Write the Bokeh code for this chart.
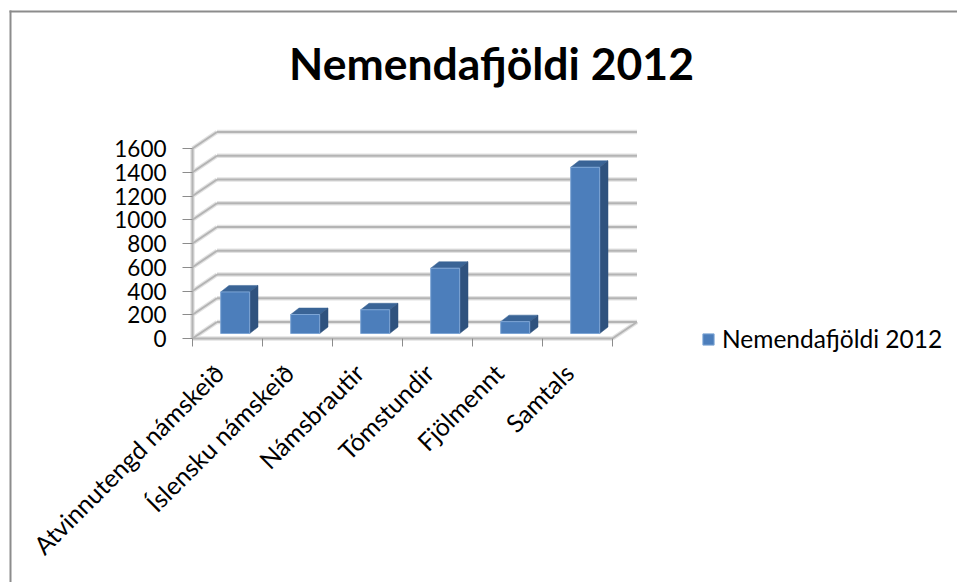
from math import pi
from bokeh.plotting import figure
from bokeh.models import FixedTicker, BoxAnnotation, Legend, LegendItem, Label
from bokeh.embed import file_html
from bokeh.resources import INLINE

title_text = "Nemendafjöldi 2012"
categories = ["Atvinnutengd námskeið", "Íslensku námskeið", "Námsbrautir", "Tómstundir", "Fjölmennt", "Samtals"]
values = [350, 160, 200, 550, 100, 1400]
y_ticks = [0, 200, 400, 600, 800, 1000, 1200, 1400, 1600]

FONT = "Lato"
GRID_DARK, GRID_LIGHT = "#b4b4b4", "#e2e2e2"
FRONT, TOP, SIDE = "#4c7ebb", "#3a6496", "#2f527e"

W, H = 957, 582
X0, Y0 = 192, 338    # pixel position of the chart's origin
PX_X = 70.0          # pixels per category
PX_Y = 0.11875       # pixels per unit of value

# depth of the wall and of a bar, in data units
WALL_DX, WALL_DY = 24.5 / PX_X, 16.5 / PX_Y
BAR_DX, BAR_DY = 8.3 / PX_X, 6.5 / PX_Y
FLOOR_DY = 5 / PX_Y
BAR_W = 29 / PX_X
BAR_SHIFT = 0.61
LABEL_POS = 0.38

def bx(px):
    return (px - X0) / PX_X
def by(px):
    return (Y0 - px) / PX_Y

p = figure(width=W, height=H, x_range=(bx(0), bx(W)), y_range=(by(H), by(0)),
           output_backend="svg", toolbar_location=None,
           min_border_left=0, min_border_bottom=0, min_border_top=0, min_border_right=0,
           outline_line_color=None, background_fill_color="white", border_fill_color="white")
p.grid.visible = False

# title
p.add_layout(Label(x=bx(491), y=by(62), text=title_text, text_font=FONT, text_font_style="bold",
                   text_font_size="44.5px", text_color="#000000", text_align="center", text_baseline="middle"))

# chart-area border (top and left only)
p.add_layout(BoxAnnotation(left=bx(9), right=bx(11), top=by(10), bottom=by(H),
                           fill_color="#8c8c8c", fill_alpha=1, line_color=None))
p.add_layout(BoxAnnotation(left=bx(9), right=bx(W), top=by(10), bottom=by(12),
                           fill_color="#8c8c8c", fill_alpha=1, line_color=None))

# walls and floor
n = len(categories)
for color, width in ((GRID_LIGHT, 4.5), (GRID_DARK, 2)):
    gy = [t + WALL_DY for t in y_ticks]
    p.segment([WALL_DX] * len(gy), gy, [n + WALL_DX] * len(gy), gy, line_color=color, line_width=width)
    p.segment([0] * len(y_ticks), y_ticks, [WALL_DX] * len(y_ticks), gy, line_color=color, line_width=width)
    p.line([n, n + WALL_DX], [0, WALL_DY], line_color=color, line_width=width)
    p.line([0, n], [0, 0], line_color=color, line_width=width)
    p.line([0, 0], [0, y_ticks[-1]], line_color=color, line_width=width)

# bars
xc = [i + BAR_SHIFT for i in range(n)]
tops = [v + FLOOR_DY for v in values]
xl = [c - BAR_W / 2 for c in xc]
xr = [c + BAR_W / 2 for c in xc]
p.patches([[a, a + BAR_DX, b + BAR_DX, b] for a, b in zip(xl, xr)],
          [[t, t + BAR_DY, t + BAR_DY, t] for t in tops],
          fill_color=TOP, line_color=TOP, line_width=0.5)
p.patches([[b, b + BAR_DX, b + BAR_DX, b] for b in xr],
          [[FLOOR_DY, FLOOR_DY + BAR_DY, t + BAR_DY, t] for t in tops],
          fill_color=SIDE, line_color=SIDE, line_width=0.5)
front = p.vbar(x=xc, width=BAR_W, bottom=FLOOR_DY, top=tops, fill_color=FRONT, line_color="#7ea6d6", line_width=1)

# axes
xa = p.xaxis[0]
xa.fixed_location = 0
label_ticks = [i + LABEL_POS for i in range(n)]
xa.ticker = FixedTicker(ticks=label_ticks, minor_ticks=list(range(n + 1)))
xa.major_label_overrides = dict(zip(label_ticks, categories))
xa.major_label_orientation = pi / 4
xa.major_tick_line_color = None
xa.major_tick_out = 0
xa.major_tick_in = 0
xa.minor_tick_out = 8
xa.minor_tick_in = 0
xa.minor_tick_line_color = "#8c8c8c"
xa.minor_tick_line_width = 1
xa.axis_line_color = None
xa.major_label_text_font = FONT
xa.major_label_text_font_size = "24.8px"
xa.major_label_text_color = "#000000"
xa.major_label_standoff = 22

ya = p.yaxis[0]
ya.fixed_location = 0
ya.ticker = FixedTicker(ticks=y_ticks)
ya.major_tick_in = 0
ya.major_tick_out = 10
ya.minor_tick_line_color = None
ya.major_tick_line_color = "#8c8c8c"
ya.axis_line_color = None
ya.major_label_text_font = FONT
ya.major_label_text_font_size = "22.5px"
ya.major_label_text_color = "#000000"
ya.major_label_standoff = 16

# legend
legend = Legend(items=[LegendItem(label=title_text, renderers=[front])], location=(701, 229),
                background_fill_alpha=0, border_line_color=None, label_text_font=FONT,
                label_text_font_size="24.5px", label_text_color="#000000", glyph_width=14, glyph_height=14,
                label_standoff=7, padding=0, margin=0)
p.add_layout(legend, "center")

open("out.html", "w").write(file_html(p, INLINE))
